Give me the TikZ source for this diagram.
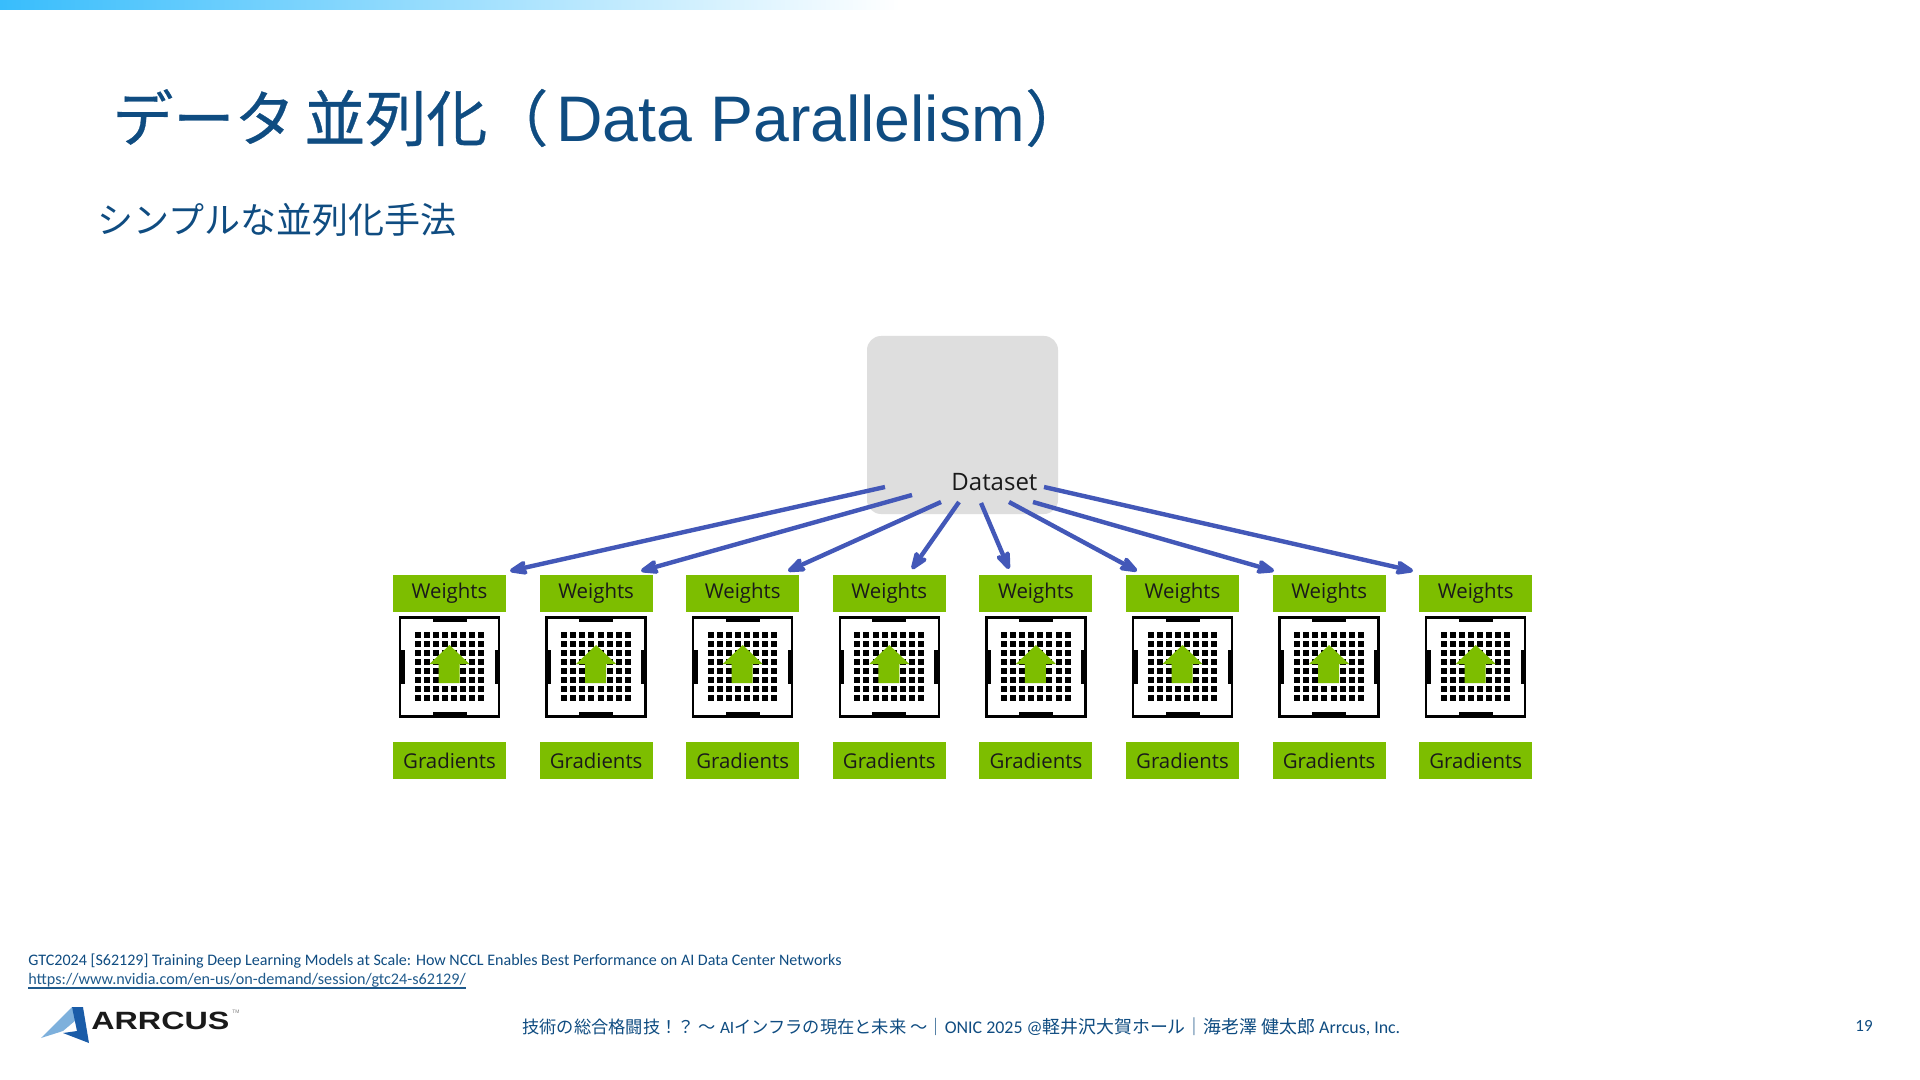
\documentclass[tikz,border=0pt]{standalone}
\usepackage{fontspec}
\setmainfont{Carlito}
\newfontfamily\cjk{Noto Sans CJK JP}
\newfontfamily\cjktitle{Noto Sans CJK JP}[FakeBold=0.5]
\newfontfamily\latn{Liberation Sans}
\newfontfamily\dgm{Open Sans}
\usepackage{xcolor}
\usepackage{graphicx}
\usetikzlibrary{positioning,calc,arrows.meta}
\definecolor{titleblue}{HTML}{0F4C81}
\definecolor{linkblue}{HTML}{1F5A8C}
\definecolor{nvgreen}{HTML}{7DBE00}
\definecolor{flowblue}{HTML}{4358B8}
\definecolor{boxgrey}{HTML}{DEDEDE}
\definecolor{barblue}{HTML}{38BDFC}
\definecolor{barmid}{HTML}{B4D6FA}
\definecolor{logoblue}{HTML}{1A5CA8}
\definecolor{logolight}{HTML}{7DB0DC}
\definecolor{inkblack}{HTML}{1A1A1A}
\begin{document}
\begin{tikzpicture}[x=0.5pt, y=-0.5pt, >={Stealth[round]}, greenbox/.style = {rectangle, fill=nvgreen, text=inkblack, minimum width=56.5pt, minimum height=18.75pt, inner sep=0pt, font=\dgm\fontsize{10.2}{12}\selectfont}, chip/.style = {rectangle, draw=black, line width=1.25pt, fill=white, minimum size=49.5pt, inner sep=0pt}, every edge/.append style={->, draw=flowblue, line width=2.2pt}, plain/.style = {inner sep=0pt, anchor=west}]

\useasboundingbox (0,0) rectangle (1920,1080);
\fill[white] (0,0) rectangle (1920,1080);
\fill[left color=barblue, middle color=barmid, right color=white] (0,0) rectangle (900,10);

\node[plain, text=titleblue] (title) at (112,118) {\fontsize{30.5}{38}\selectfont\cjktitle データ\hspace{4.5pt}並列化（\hspace{4pt}\fontsize{32.2}{38}\selectfont\latn Data Parallelism\fontsize{30.5}{38}\selectfont\cjktitle ）};
\node[plain, text=titleblue] (subtitle) at (97,220) {\fontsize{18}{21}\selectfont\cjk シンプルな並列化手法};

\fill[boxgrey, rounded corners=7pt] (867,336) rectangle (1058,514);
\node[plain, text=inkblack, font=\dgm\fontsize{12}{14}\selectfont] (dataset) at (951,482) {Dataset};

\foreach \i in {1,...,8} {
  \node[greenbox] (w\i) at ({449.5+146.6*(\i-1)},593.5) {Weights};
  \node[greenbox] (g\i) at ({449.5+146.6*(\i-1)},760.5) {Gradients};
  \node[chip] (c\i) at ({449.5+146.6*(\i-1)},667) {};
  \fill[black] ($(c\i)+(-17,-50)$) rectangle ($(c\i)+(17,-45)$);
  \fill[black] ($(c\i)+(-17,45)$) rectangle ($(c\i)+(17,50)$);
  \fill[black] ($(c\i)+(-50,-17)$) rectangle ($(c\i)+(-45,17)$);
  \fill[black] ($(c\i)+(45,-17)$) rectangle ($(c\i)+(50,17)$);
  \foreach \r in {0,...,7} \foreach \q in {0,...,7}
    \fill[black] ($(c\i)+(-35+\q*9.1,-35.5+\r*9.1)$) rectangle ++(6,6);
  \fill[nvgreen] ($(c\i)+(0,-22)$) -- ++(20,19) -- ++(-10,0) -- ++(0,19) -- ++(-21,0) -- ++(0,-19) -- ++(-9,0) -- cycle;
}

\coordinate (s1) at (885,487);
\coordinate (s2) at (912,495);
\coordinate (s3) at (941,502);
\coordinate (s4) at (959,502);
\coordinate (s5) at (981,503);
\coordinate (s6) at (1009,502);
\coordinate (s7) at (1033,502);
\coordinate (s8) at (1044,487);
\coordinate (e1) at (510,571);
\coordinate (e2) at (641,571);
\coordinate (e3) at (788,571);
\coordinate (e4) at (912,569);
\coordinate (e5) at (1009,569);
\coordinate (e6) at (1137,571);
\coordinate (e7) at (1274,571);
\coordinate (e8) at (1413,571);

\path
 (s1) edge (e1)
 (s2) edge (e2)
 (s3) edge (e3)
 (s4) edge (e4)
 (s5) edge (e5)
 (s6) edge (e6)
 (s7) edge (e7)
 (s8) edge (e8);

\node[plain, text=titleblue] (source) at (28,961) {\fontsize{8.02}{9}\selectfont GTC2024 [S62129] Training Deep Learning Models at Scale: How NCCL Enables Best Performance on AI Data Center Networks};
\node[plain, text=linkblue] (link) at (28,980.5) {\fontsize{8.08}{9}\selectfont https://www.nvidia.com/en-us/on-demand/session/gtc24-s62129/};
\draw[linkblue, line width=0.6pt] (28,988) -- (466,988);

\fill[logolight] (72,1007) -- (41,1038) -- (63,1031) -- (76,1020) -- cycle;
\fill[logoblue] (72,1007) -- (83,1007) -- (89,1043) -- (63,1033) -- (77,1031) -- cycle;
\node[plain, font=\latn\bfseries, text=inkblack] (logo) at (91,1021) {\scalebox{1.29}[1]{\fontsize{12.5}{14}\selectfont ARRCUS}};
\node[plain, text=gray] (tm) at (232,1012) {\fontsize{2.5}{3}\selectfont\latn TM};

\node[plain, text=titleblue] (footer) at (522,1027) {\fontsize{8.63}{10}\selectfont\cjk 技術の総合格闘技！？ 〜 \rmfamily AI\cjk インフラの現在と未来 〜│\fontsize{8.95}{10}\selectfont\rmfamily ONIC 2025 @\cjk 軽井沢大賀ホール│海老澤 健太郎 \rmfamily Arrcus, Inc.};
\node[plain, text=titleblue] (page) at (1855,1026) {\fontsize{8.5}{10}\selectfont 19};
\end{tikzpicture}
\end{document}
